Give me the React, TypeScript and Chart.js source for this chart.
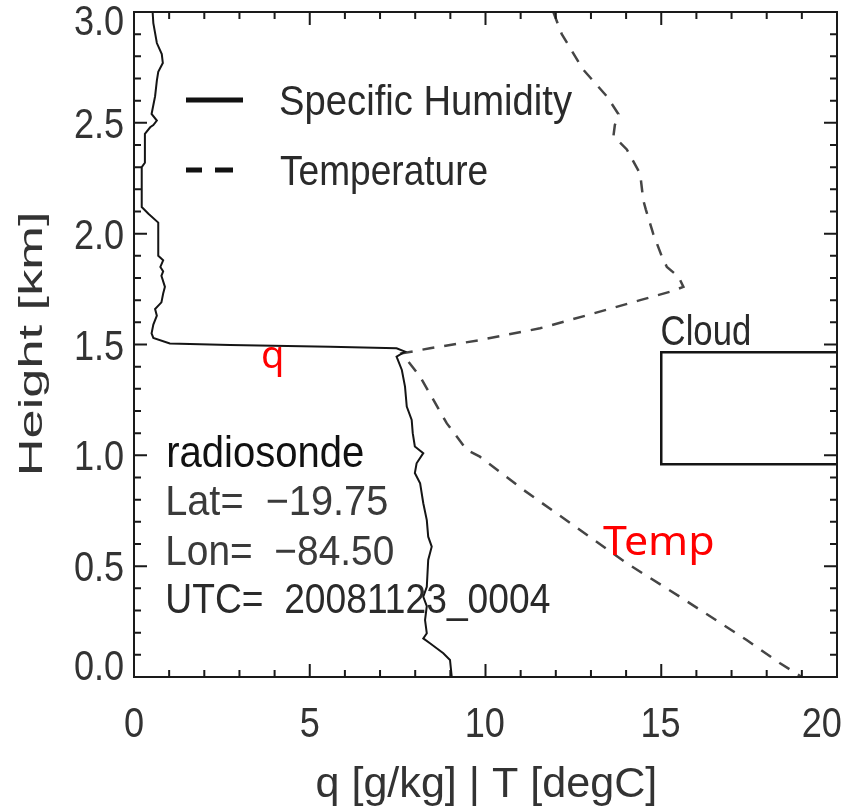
import React, { useEffect, useRef } from "react";
import { Chart, registerables } from "chart.js";

Chart.register(...registerables);

// ---- Data ----
// Specific humidity q [g/kg] vs height [km]
const qHeight = [3.0, 2.95, 2.86, 2.81, 2.77, 2.73, 2.69, 2.62, 2.54, 2.51, 2.49, 2.48, 2.45, 2.32, 2.3, 2.12, 2.09, 2.05, 1.9, 1.88, 1.85, 1.83, 1.81, 1.76, 1.73, 1.69, 1.66, 1.63, 1.59, 1.55, 1.53, 1.505, 1.498, 1.49, 1.483, 1.468, 1.445, 1.385, 1.31, 1.22, 1.16, 1.1, 1.04, 1.01, 0.964, 0.92, 0.874, 0.784, 0.708, 0.633, 0.588, 0.528, 0.407, 0.362, 0.32, 0.257, 0.197, 0.174, 0.152, 0.107, 0.077, 0.0];
const qValue = [0.53, 0.55, 0.65, 0.79, 0.82, 0.69, 0.65, 0.6, 0.5, 0.65, 0.55, 0.46, 0.31, 0.31, 0.22, 0.22, 0.41, 0.69, 0.69, 0.83, 0.75, 0.83, 0.78, 0.88, 0.83, 0.78, 0.6, 0.65, 0.55, 0.5, 0.55, 1.02, 2.73, 5.58, 7.47, 7.71, 7.47, 7.62, 7.71, 7.76, 7.9, 7.93, 7.99, 8.23, 8.04, 7.99, 8.14, 8.23, 8.33, 8.37, 8.47, 8.37, 8.33, 8.23, 8.33, 8.28, 8.33, 8.23, 8.42, 8.8, 8.99, 9.04];

// Temperature T [degC] vs height [km]
const tHeight = [3.0, 2.9, 2.74, 2.62, 2.54, 2.49, 2.44, 2.38, 2.27, 2.15, 2.11, 2.0, 1.9, 1.85, 1.806, 1.76, 1.738, 1.7, 1.64, 1.573, 1.52, 1.483, 1.46, 1.355, 1.144, 1.024, 0.994, 0.844, 0.663, 0.513, 0.362, 0.167, 0.062, 0.0];
const tValue = [11.93, 12.17, 12.78, 13.45, 13.78, 13.68, 13.64, 14.02, 14.4, 14.49, 14.56, 14.77, 15.01, 15.16, 15.49, 15.63, 15.25, 14.4, 13.07, 11.55, 9.84, 8.42, 7.62, 8.14, 8.9, 9.47, 9.84, 11.08, 12.69, 14.02, 15.53, 17.43, 18.38, 19.0];

// Cloud layer
const cloudLeft = 15;
const cloudRight = 20;
const cloudBase = 0.96;
const cloudTop = 1.465;

// Axis ticks
const xTickLabels = ["0", "5", "10", "15", "20"];
const yTickLabels = ["0.0", "0.5", "1.0", "1.5", "2.0", "2.5", "3.0"];
const xMinorStep = 1;
const yMinorStep = 0.1;

// Texts
const legendLabels = ["Specific Humidity", "Temperature"];
const infoLines = ["radiosonde", "Lat=  \u221219.75", "Lon=  \u221284.50", "UTC=  20081123_0004"];
const xTitle = "q [g/kg] | T [degC]";
const yTitle = "Height [km]";

const IDL_FONT = '"Liberation Sans", Arial, sans-serif';
const RED_FONT = '"Noto Sans", "Open Sans", sans-serif';

function fitText(
  ctx: CanvasRenderingContext2D,
  text: string,
  x: number,
  y: number,
  size: number,
  width: number | null,
  align: "left" | "center" | "right",
  color: string,
  family: string = IDL_FONT,
  fixedScale: number | null = null
) {
  ctx.save();
  ctx.font = `${size}px ${family}`;
  ctx.textAlign = "left";
  ctx.textBaseline = "alphabetic";
  const m = ctx.measureText(text);
  const abl = m.actualBoundingBoxLeft;
  const inkW = m.actualBoundingBoxLeft + m.actualBoundingBoxRight;
  const s = fixedScale != null ? fixedScale : width ? width / inkW : 1;
  ctx.translate(x, y);
  ctx.scale(s, 1);
  ctx.fillStyle = color;
  let off = abl;
  if (align === "center") off = abl - inkW / 2;
  if (align === "right") off = abl - inkW;
  ctx.fillText(text, off, 0);
  ctx.restore();
}

const framePlugin = {
  id: "idlFrame",
  afterDatasetsDraw(chart: any) {
    const ctx: CanvasRenderingContext2D = chart.ctx;
    const { left, right, top, bottom } = chart.chartArea;
    const xs = chart.scales.x;
    const ys = chart.scales.y;
    ctx.save();
    // frame
    ctx.strokeStyle = "#1a1a1a";
    ctx.lineWidth = 2;
    ctx.strokeRect(left, top, right - left, bottom - top);

    // inward ticks
    ctx.lineWidth = 2;
    const nx = Math.round((xs.max - xs.min) / xMinorStep);
    for (let i = 0; i <= nx; i++) {
      const v = xs.min + i * xMinorStep;
      const px = xs.getPixelForValue(v);
      const len = i % 5 === 0 ? 13 : 7;
      ctx.beginPath();
      ctx.moveTo(px, bottom);
      ctx.lineTo(px, bottom - len);
      ctx.moveTo(px, top);
      ctx.lineTo(px, top + len);
      ctx.stroke();
    }
    const ny = Math.round((ys.max - ys.min) / yMinorStep);
    for (let i = 0; i <= ny; i++) {
      const v = ys.min + i * yMinorStep;
      const py = ys.getPixelForValue(v);
      const len = i % 5 === 0 ? 13 : 7;
      ctx.beginPath();
      ctx.moveTo(left, py);
      ctx.lineTo(left + len, py);
      ctx.moveTo(right, py);
      ctx.lineTo(right - len, py);
      ctx.stroke();
    }

    // tick labels
    const tickColor = "#333";
    yTickLabels.forEach((lab) => {
      const py = ys.getPixelForValue(parseFloat(lab));
      const cy = Math.min(Math.max(py, top + 8), bottom - 12);
      fitText(ctx, lab, left - 11, cy + 15, 42, null, "right", tickColor, IDL_FONT, 0.86);
    });
    xTickLabels.forEach((lab) => {
      const px = xs.getPixelForValue(parseFloat(lab));
      const cx = Math.min(px, right - 15);
      fitText(ctx, lab, cx, bottom + 60, 42, null, "center", tickColor, IDL_FONT, 0.86);
    });

    // axis titles
    fitText(ctx, xTitle, (left + right) / 2, 797, 42, 338, "center", tickColor);
    ctx.save();
    ctx.translate(42, 344);
    ctx.rotate(-Math.PI / 2);
    fitText(ctx, yTitle, 0, 0, 33, 258, "center", tickColor);
    ctx.restore();

    // legend
    ctx.strokeStyle = "#111";
    ctx.lineWidth = 5;
    ctx.setLineDash([]);
    ctx.beginPath();
    ctx.moveTo(left + 52, top + 88);
    ctx.lineTo(left + 109, top + 88);
    ctx.stroke();
    ctx.beginPath();
    ctx.moveTo(left + 52, top + 158);
    ctx.lineTo(left + 68, top + 158);
    ctx.moveTo(left + 81, top + 158);
    ctx.lineTo(left + 99, top + 158);
    ctx.stroke();
    fitText(ctx, legendLabels[0], left + 146, top + 103, 42, 292, "left", "#2a2a2a");
    fitText(ctx, legendLabels[1], left + 146, top + 173, 42, 207, "left", "#2a2a2a");

    // info block
    fitText(ctx, infoLines[0], left + 34, 467, 44, 195, "left", "#111");
    fitText(ctx, infoLines[1], left + 34, 515, 42, 219, "left", "#3a3a3a");
    fitText(ctx, infoLines[2], left + 34, 565, 42, 225, "left", "#3a3a3a");
    fitText(ctx, infoLines[3], left + 34, 613, 42, 382, "left", "#2a2a2a");

    // cloud label
    const cx = xs.getPixelForValue(cloudLeft);
    const cyTop = ys.getPixelForValue(cloudTop);
    fitText(ctx, "Cloud", cx + 1, cyTop - 7, 42, 87, "left", "#2a2a2a");

    // red annotations
    fitText(ctx, "q", 263, 368, 38, null, "left", "#ff0000", RED_FONT);
    fitText(ctx, "Temp", 603, 555, 40, 110, "left", "#ff0000", RED_FONT);

    ctx.restore();
  },
};

export default function App() {
  const canvasRef = useRef<HTMLCanvasElement | null>(null);

  useEffect(() => {
    const canvas = canvasRef.current;
    if (!canvas) return;
    const qData = qHeight.map((h, i) => ({ x: qValue[i], y: h }));
    const tData = tHeight.map((h, i) => ({ x: tValue[i], y: h }));
    const cloudData = [
      { x: cloudRight, y: cloudTop },
      { x: cloudLeft, y: cloudTop },
      { x: cloudLeft, y: cloudBase },
      { x: cloudRight, y: cloudBase },
    ];
    const chart = new Chart(canvas, {
      type: "scatter",
      data: {
        datasets: [
          {
            label: legendLabels[0],
            data: qData,
            showLine: true,
            borderColor: "#151515",
            borderWidth: 2,
            pointRadius: 0,
            tension: 0,
          },
          {
            label: legendLabels[1],
            data: tData,
            showLine: true,
            borderColor: "#454545",
            borderWidth: 2.5,
            borderDash: [12, 10],
            pointRadius: 0,
            tension: 0,
          },
          {
            label: "Cloud",
            data: cloudData,
            showLine: true,
            borderColor: "#151515",
            borderWidth: 2.5,
            pointRadius: 0,
            tension: 0,
          },
        ],
      },
      options: {
        animation: false,
        responsive: false,
        devicePixelRatio: 1,
        events: [],
        layout: { padding: { top: 12, right: 24, left: 0, bottom: 0 } },
        plugins: {
          legend: { display: false },
          tooltip: { enabled: false },
          title: { display: false },
        },
        scales: {
          x: {
            type: "linear",
            min: 0,
            max: 20,
            grid: { display: false },
            border: { display: false },
            ticks: { display: false },
            afterFit: (scale: any) => {
              scale.height = 131;
            },
          },
          y: {
            type: "linear",
            min: 0,
            max: 3,
            grid: { display: false },
            border: { display: false },
            ticks: { display: false },
            afterFit: (scale: any) => {
              scale.width = 134;
            },
          },
        },
      },
      plugins: [framePlugin],
    } as any);
    return () => chart.destroy();
  }, []);

  return (
    <div style={{ position: "absolute", left: 0, top: 0, width: 861, height: 808, background: "#fff" }}>
      <canvas ref={canvasRef} width={861} height={808} style={{ display: "block" }} />
    </div>
  );
}
